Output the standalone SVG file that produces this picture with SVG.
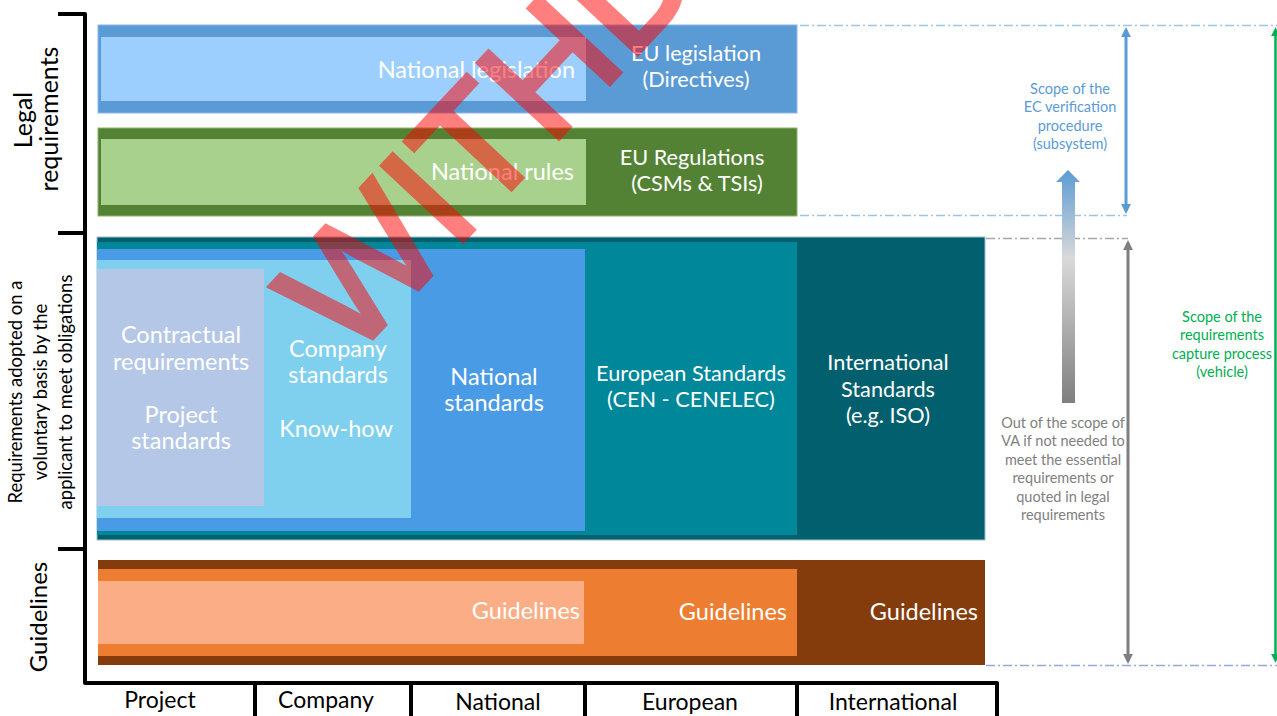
<svg xmlns="http://www.w3.org/2000/svg" width="1277" height="716" viewBox="0 0 1277 716">
<style>
text{font-family:Lato,"Liberation Sans",sans-serif}
.w{fill:#ffffff}
.k{fill:#000000}
.c24{font-size:23.5px}
.c22{font-size:21.7px}
.sm{font-size:14.5px}
.mid{text-anchor:middle}
.end{text-anchor:end}
.br{stroke:#000;stroke-width:4;fill:none;stroke-linejoin:round}
.dd{fill:none;stroke-width:1.5;stroke-dasharray:9 3 2 3}
</style>
<defs>
<marker id="ah-blue" viewBox="0 0 10 10" refX="7" refY="5" markerWidth="3.3" markerHeight="3.3" orient="auto-start-reverse"><path d="M0,0 L10,5 L0,10 z" fill="#5B9BD5"/></marker>
<marker id="ah-grey" viewBox="0 0 10 10" refX="7" refY="5" markerWidth="3.3" markerHeight="3.3" orient="auto-start-reverse"><path d="M0,0 L10,5 L0,10 z" fill="#7F7F7F"/></marker>
<marker id="ah-green" viewBox="0 0 10 10" refX="7" refY="5" markerWidth="3.6" markerHeight="3.6" orient="auto-start-reverse"><path d="M0,0 L10,5 L0,10 z" fill="#00B050"/></marker>
<linearGradient id="grad" x1="0" y1="170" x2="0" y2="403" gradientUnits="userSpaceOnUse">
<stop offset="0" stop-color="#5B9BD5"/>
<stop offset="0.38" stop-color="#D9D9D9"/>
<stop offset="1" stop-color="#7F7F7F"/>
</linearGradient>
</defs>

<g id="axes">
<path class="br" d="M58,14 H85 V683 H997 V716"/>
<path class="br" d="M58,233 H85 M58,549 H85 M255,683 V716 M411,683 V716 M585,683 V716 M797,683 V716"/>
</g>

<g id="axis-labels">
<text class="k mid" x="160" y="708" style="font-size:23px">Project</text>
<text class="k mid" x="326" y="708" style="font-size:23px">Company</text>
<text class="k mid" x="498" y="710" style="font-size:23px">National</text>
<text class="k mid" x="690" y="710" style="font-size:23px">European</text>
<text class="k mid" x="893" y="710" style="font-size:23px">International</text>
</g>

<g id="side-labels">
<text class="k mid" transform="translate(32,120) rotate(-90)" style="font-size:25px">Legal</text>
<text class="k mid" transform="translate(58,119) rotate(-90)" style="font-size:25px">requirements</text>
<text class="k mid" transform="translate(22,392) rotate(-90)" style="font-size:18.5px">Requirements adopted on a</text>
<text class="k mid" transform="translate(47,392) rotate(-90)" style="font-size:18.5px">voluntary basis by the</text>
<text class="k mid" transform="translate(72,392) rotate(-90)" style="font-size:18.5px">applicant to meet  obligations</text>
<text class="k mid" transform="translate(47,617) rotate(-90)" style="font-size:24px">Guidelines</text>
</g>

<g id="eu-legislation">
<rect x="98" y="25" width="699" height="88" fill="#5B9BD5" stroke="#8DB6E3" stroke-width="1"/>
<text class="w mid c22" x="696" y="61">EU legislation</text>
<text class="w mid c22" x="696" y="87">(Directives)</text>
</g>
<g id="national-legislation">
<rect x="101" y="37" width="485" height="64" fill="#9DCFFE"/>
<text class="w end c24" x="575" y="78">National legislation</text>
</g>

<g id="eu-regulations">
<rect x="98" y="128" width="699" height="88" fill="#548235" stroke="#8CB46E" stroke-width="1"/>
<text class="w mid c22" x="692" y="165">EU Regulations</text>
<text class="w mid c22" x="697" y="191">(CSMs &amp; TSIs)</text>
</g>
<g id="national-rules">
<rect x="101" y="139" width="485" height="66" fill="#A9D18E"/>
<text class="w end c24" x="574" y="180">National rules</text>
</g>

<g id="international-standards">
<rect x="97" y="237" width="888" height="303" fill="#02606E" stroke="#9FC0C8" stroke-width="1"/>
<text class="w mid c22" x="888" y="370">International</text>
<text class="w mid c22" x="888" y="397">Standards</text>
<text class="w mid c22" x="888" y="423">(e.g. ISO)</text>
</g>
<g id="european-standards">
<rect x="97" y="242" width="700" height="293" fill="#00879A"/>
<text class="w mid c22" x="691" y="381">European Standards</text>
<text class="w mid c22" x="691" y="407">(CEN - CENELEC)</text>
</g>
<g id="national-standards">
<rect x="97" y="249" width="488" height="282" fill="#4A9BE5"/>
<text class="w mid c24" x="494" y="385">National</text>
<text class="w mid c24" x="494" y="411">standards</text>
</g>
<g id="company-standards">
<rect x="97" y="260" width="314" height="258" fill="#7FD0EF"/>
<text class="w mid c24" x="338" y="357">Company</text>
<text class="w mid c24" x="338" y="383">standards</text>
<text class="w mid c24" x="336" y="437">Know-how</text>
</g>
<g id="project-standards">
<rect x="97" y="269" width="167" height="237" fill="#B4C7E7"/>
<text class="w mid c24" x="181" y="343">Contractual</text>
<text class="w mid c24" x="181" y="370">requirements</text>
<text class="w mid c24" x="181" y="423">Project</text>
<text class="w mid c24" x="181" y="449">standards</text>
</g>

<g id="guidelines-international">
<rect x="98" y="560" width="887" height="105" fill="#843C0C"/>
<text class="w end c24" x="978" y="620">Guidelines</text>
</g>
<g id="guidelines-european">
<rect x="98" y="569" width="699" height="87" fill="#ED7D31"/>
<text class="w end c24" x="787" y="620">Guidelines</text>
</g>
<g id="guidelines-national">
<rect x="98" y="581" width="486" height="63" fill="#FBAE85"/>
<text class="w end c24" x="580" y="619">Guidelines</text>
</g>

<g id="connectors">
<line class="dd" x1="800" y1="25.5" x2="1277" y2="25.5" stroke="#9DC3E6"/>
<line class="dd" x1="800" y1="215.5" x2="1127" y2="215.5" stroke="#9DC3E6"/>
<line class="dd" x1="986" y1="238.5" x2="1128" y2="238.5" stroke="#A6A6A6"/>
<line class="dd" x1="986" y1="665.5" x2="1277" y2="665.5" stroke="#8FAADC"/>
<line x1="1126" y1="30" x2="1126" y2="211" stroke="#5B9BD5" stroke-width="3" marker-start="url(#ah-blue)" marker-end="url(#ah-blue)"/>
<line x1="1128" y1="243" x2="1128" y2="661" stroke="#7F7F7F" stroke-width="3" marker-start="url(#ah-grey)" marker-end="url(#ah-grey)"/>
<line x1="1275.5" y1="30" x2="1275.5" y2="660" stroke="#00B050" stroke-width="2.5" marker-start="url(#ah-green)" marker-end="url(#ah-green)"/>
<polygon points="1068,170 1080,182 1075,182 1075,403 1062,403 1062,182 1056,182" fill="url(#grad)"/>
</g>

<g id="scope-labels">
<g fill="#5B9BD5" class="sm mid">
<text x="1070" y="94">Scope of the</text>
<text x="1070" y="112">EC verification</text>
<text x="1070" y="131">procedure</text>
<text x="1070" y="149">(subsystem)</text>
</g>
<g fill="#808080" class="sm mid">
<text x="1063" y="428">Out of the scope of</text>
<text x="1063" y="446">VA if not needed to</text>
<text x="1063" y="465">meet the essential</text>
<text x="1063" y="483">requirements or</text>
<text x="1063" y="502">quoted in legal</text>
<text x="1063" y="520">requirements</text>
</g>
<g fill="#00B050" class="sm mid">
<text x="1222" y="322">Scope of the</text>
<text x="1222" y="340">requirements</text>
<text x="1222" y="359">capture process</text>
<text x="1222" y="377">(vehicle)</text>
</g>
</g>

<g id="watermark" opacity="0.5">
<text transform="translate(350,362) rotate(-47)" style="font-family:'Liberation Sans',sans-serif;font-size:160px" fill="#FF0000" stroke="#FF0000" stroke-width="5" stroke-linejoin="miter">WITHDRAWN</text>
</g>
</svg>
